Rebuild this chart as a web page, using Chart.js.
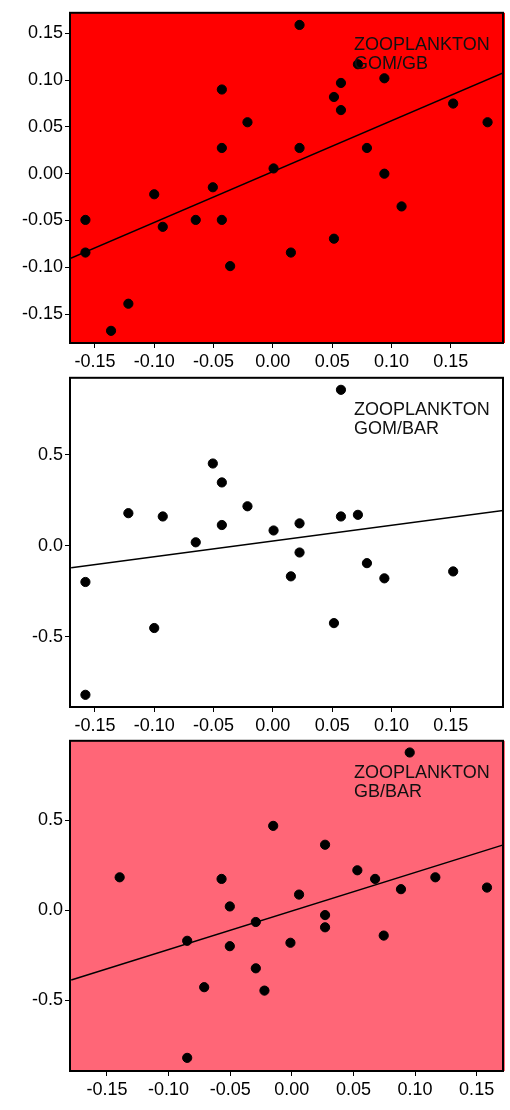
<!DOCTYPE html>
<html>
<head>
<meta charset="utf-8">
<script src="https://cdn.jsdelivr.net/npm/chart.js@4"></script>
<style>
  html, body { margin: 0; padding: 0; background: #fff; }
  body { width: 510px; height: 1110px; position: relative; overflow: hidden; }
  canvas { position: absolute; left: 0; }
</style>
</head>
<body>
<canvas id="p1" width="510" height="370" style="top:0"></canvas>
<canvas id="p2" width="510" height="370" style="top:365px"></canvas>
<canvas id="p3" width="510" height="382" style="top:728px"></canvas>
<script>
// ---- tick labels ----
const xTicks   = [-0.15, -0.10, -0.05, 0.00, 0.05, 0.10, 0.15];
const yTicks1  = [-0.15, -0.10, -0.05, 0.00, 0.05, 0.10, 0.15];
const yTicks23 = [-0.5, 0.0, 0.5];

// ---- panel 1: ZOOPLANKTON GOM/GB ----
const gomGbX = [0.0225, 0.0717, 0.094, 0.0574, 0.0515, 0.0574, 0.152, 0.181, -0.043, -0.0214,
                -0.043, 0.0225, 0.0793, 0.0006, 0.094, -0.100, -0.0506, 0.1085, -0.158, -0.0928,
                -0.065, -0.043, 0.0515, -0.158, 0.0152, -0.036, -0.1218, -0.1364];
const gomGbY = [0.159, 0.117, 0.102, 0.097, 0.082, 0.068, 0.075, 0.055, 0.090, 0.055,
                0.0275, 0.0275, 0.0275, 0.0056, 0.000, -0.022, -0.0145, -0.035, -0.0494, -0.0568,
                -0.0494, -0.0494, -0.0695, -0.0843, -0.0843, -0.0988, -0.139, -0.168];
const gomGbFitX = [-0.171, 0.194];
const gomGbFitY = [-0.0907, 0.1076];

// ---- panel 2: ZOOPLANKTON GOM/BAR ----
const gomBarX = [0.0574, -0.0506, -0.043, -0.0214, -0.1218, -0.0928, 0.0717, 0.0574, 0.0225, -0.043,
                 0.0006, -0.065, 0.0225, 0.0793, -0.158, 0.0152, 0.094, 0.152, 0.0515, -0.100, -0.158];
const gomBarY = [0.858, 0.453, 0.349, 0.218, 0.180, 0.162, 0.171, 0.162, 0.124, 0.115,
                 0.085, 0.020, -0.036, -0.0945, -0.198, -0.167, -0.178, -0.140, -0.424, -0.451, -0.818];
const gomBarFitX = [-0.170, 0.195];
const gomBarFitY = [-0.120, 0.196];

// ---- panel 3: ZOOPLANKTON GB/BAR ----
const gbBarX = [0.0957, -0.0151, 0.027, -0.1397, -0.057, 0.0532, 0.0676, 0.1165, 0.1584, 0.0886,
                0.0059, -0.0503, 0.027, -0.0292, 0.027, 0.0746, -0.0849, -0.0011, -0.0503, -0.0292,
                -0.0711, -0.0222, -0.0849];
const gbBarY = [0.878, 0.470, 0.365, 0.184, 0.175, 0.223, 0.175, 0.184, 0.127, 0.118,
                0.088, 0.022, -0.026, -0.0645, -0.094, -0.140, -0.169, -0.180, -0.199, -0.322,
                -0.427, -0.446, -0.820];
const gbBarFitX = [-0.179, 0.171];
const gbBarFitY = [-0.387, 0.363];

const FONT = "'Liberation Sans', Arial, sans-serif";

// fills the plot area and draws the black frame + panel label
const panelPlugin = {
  id: 'panel',
  beforeDraw(chart, args, opts) {
    const { ctx, chartArea: a } = chart;
    ctx.save();
    ctx.fillStyle = opts.bg;
    ctx.fillRect(a.left, a.top, a.right - a.left + 2, a.bottom - a.top);
    ctx.restore();
  },
  afterDraw(chart, args, opts) {
    const { ctx, chartArea: a } = chart;
    ctx.save();
    ctx.strokeStyle = '#000';
    ctx.lineWidth = 2;
    ctx.strokeRect(a.left, a.top, a.right - a.left, a.bottom - a.top);
    ctx.fillStyle = '#111';
    ctx.font = '18px ' + FONT;
    ctx.textBaseline = 'alphabetic';
    ctx.fillText(opts.lines[0], a.left + 284, a.top + 37);
    ctx.fillText(opts.lines[1], a.left + 284, a.top + 56);
    ctx.restore();
  },
};

function makePanel(id, xs, ys, fitX, fitY, opt) {
  const pts = xs.map((x, i) => ({ x, y: ys[i] }));
  const fit = fitX.map((x, i) => ({ x, y: fitY[i] }));
  return new Chart(document.getElementById(id), {
    type: 'scatter',
    data: {
      datasets: [
        { data: fit, type: 'line', showLine: true, borderColor: '#000', borderWidth: 1.5,
          pointRadius: 0, fill: false, order: 2 },
        { data: pts, backgroundColor: '#000', borderColor: '#000', pointRadius: 4.6,
          pointHoverRadius: 4.6, order: 1 },
      ],
    },
    options: {
      responsive: false,
      animation: false,
      layout: { padding: { top: 10, right: 7, left: 0, bottom: 0 } },
      plugins: {
        legend: { display: false },
        tooltip: { enabled: false },
        panel: { bg: opt.bg, lines: opt.lines },
      },
      scales: {
        x: {
          type: 'linear', min: opt.xMin, max: opt.xMax,
          afterBuildTicks: s => { s.ticks = xTicks.map(v => ({ value: v })); },
          afterFit: s => { s.height = opt.xh; },
          grid: { drawOnChartArea: false, drawTicks: true, tickLength: 5, color: '#000', lineWidth: 1 },
          border: { display: false },
          ticks: { color: '#000', font: { family: FONT, size: 18 }, padding: 3, maxRotation: 0,
                   callback: v => v.toFixed(2) },
        },
        y: {
          type: 'linear', min: opt.yMin, max: opt.yMax,
          afterBuildTicks: s => { s.ticks = opt.yTicks.map(v => ({ value: v })); },
          afterFit: s => { s.width = 70; },
          grid: { drawOnChartArea: false, drawTicks: true, tickLength: 5, color: '#000', lineWidth: 1 },
          border: { display: false },
          ticks: { color: '#000', font: { family: FONT, size: 18 }, padding: 2,
                   callback: v => v.toFixed(opt.yDec) },
        },
      },
    },
    plugins: [panelPlugin],
  });
}

makePanel('p1', gomGbX, gomGbY, gomGbFitX, gomGbFitY, {
  bg: '#ff0000', lines: ['ZOOPLANKTON', 'GOM/GB'], xMin: -0.171, xMax: 0.194,
  yMin: -0.181, yMax: 0.172, yTicks: yTicks1, yDec: 2, xh: 27,
});
makePanel('p2', gomBarX, gomBarY, gomBarFitX, gomBarFitY, {
  bg: '#ffffff', lines: ['ZOOPLANKTON', 'GOM/BAR'], xMin: -0.171, xMax: 0.194,
  yMin: -0.885, yMax: 0.924, yTicks: yTicks23, yDec: 1, xh: 28,
});
makePanel('p3', gbBarX, gbBarY, gbBarFitX, gbBarFitY, {
  bg: '#ff6677', lines: ['ZOOPLANKTON', 'GB/BAR'], xMin: -0.180, xMax: 0.1714,
  yMin: -0.893, yMax: 0.943, yTicks: yTicks23, yDec: 1, xh: 39,
});
</script>
</body>
</html>
